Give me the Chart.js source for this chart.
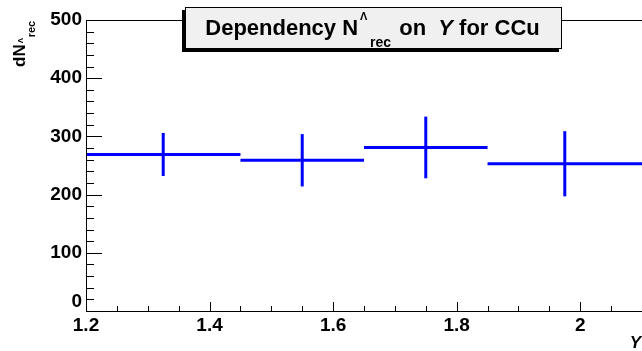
<!DOCTYPE html>
<html>
<head>
<meta charset="utf-8">
<script src="https://cdn.jsdelivr.net/npm/chart.js@4/dist/chart.umd.min.js"></script>
<style>
  html, body { margin: 0; padding: 0; background: #fff; }
  #c { display: block; }
</style>
</head>
<body>
<canvas id="c" width="642" height="351"></canvas>
<script>
// bins in Y (rapidity) and reconstructed counts with errors
const binEdges = [1.2, 1.45, 1.65, 1.85, 2.1];
const counts = [269, 259, 281, 253];
const errors = [37, 45, 53, 56];
const yTicks = [0, 100, 200, 300, 400, 500];
const xTicks = [1.2, 1.4, 1.6, 1.8, 2.0];

const FONT = '"Liberation Sans", Arial, Helvetica, sans-serif';
const BLUE = '#0000ff';

// one dataset per horizontal bin line and per vertical error bar
const datasets = [];
counts.forEach(function(v, i) {
    const lo = binEdges[i], hi = binEdges[i + 1], mid = (lo + hi) / 2;
    datasets.push({
        data: [{x: lo, y: v}, {x: hi, y: v}],
        borderColor: BLUE, borderWidth: 3, pointRadius: 0, showLine: true
    });
    datasets.push({
        data: [{x: mid, y: v - errors[i]}, {x: mid, y: v + errors[i]}],
        borderColor: BLUE, borderWidth: 3, pointRadius: 0, showLine: true
    });
});

// ROOT style frame, inward ticks, title box and axis labels
const rootFrame = {
    id: 'rootFrame',
    afterDraw(chart) {
        const ctx = chart.ctx;
        const a = chart.chartArea;
        const xs = chart.scales.x, ys = chart.scales.y;
        ctx.save();
        ctx.strokeStyle = '#000';
        ctx.lineWidth = 1;
        ctx.beginPath();
        ctx.moveTo(a.right + 5, a.top + 0.5);
        ctx.lineTo(a.left + 0.5, a.top + 0.5);
        ctx.lineTo(a.left + 0.5, a.bottom + 0.5);
        ctx.lineTo(a.right + 5, a.bottom + 0.5);
        ctx.stroke();

        // y ticks: major every 100, minor every 20
        ctx.beginPath();
        for (let v = ys.min; v <= ys.max + 1e-6; v += 20) {
            const py = Math.round(ys.getPixelForValue(v)) + 0.5;
            const len = (Math.round(v) % 100 === 0) ? 16 : 8;
            ctx.moveTo(a.left, py);
            ctx.lineTo(a.left + len, py);
        }
        // x ticks: major every 0.2, minor every 0.05
        for (let k = 0; ; k++) {
            const v = xs.min + k * 0.05;
            if (v > xs.max + 1e-6) break;
            const px = Math.round(xs.getPixelForValue(v)) + 0.5;
            const len = (k % 4 === 0) ? 9 : 5;
            ctx.moveTo(px, a.bottom);
            ctx.lineTo(px, a.bottom - len);
        }
        ctx.stroke();

        // title box with shadow
        const bx = 185, by = 7, bw = 377, bh = 42;
        ctx.fillStyle = '#000';
        ctx.fillRect(bx - 3, by + 3, bw, bh);
        ctx.fillStyle = '#f0f0f0';
        ctx.fillRect(bx, by, bw, bh);
        ctx.strokeRect(bx + 0.5, by + 0.5, bw - 1, bh - 1);

        // title text: Dependency N^Λ_rec on Y for CCu
        const big = 'bold 22px ' + FONT;
        const ital = 'italic bold 22px ' + FONT;
        const parts = [
            {t: 'Dependency N', f: big},
            {sup: '\u039B', sub: 'rec'},
            {t: ' on  ', f: big},
            {t: 'Y', f: ital},
            {t: ' for CCu', f: big}
        ];
        let total = 0;
        parts.forEach(function(p) {
            if (p.sup) {
                ctx.font = 'bold 14px ' + FONT;
                p.w = 12 + ctx.measureText(p.sub).width + 2;
            } else {
                ctx.font = p.f;
                p.w = ctx.measureText(p.t).width;
            }
            total += p.w;
        });
        let tx = bx + bw / 2 - total / 2 - 1;
        const base = 35;
        ctx.fillStyle = '#000';
        ctx.textBaseline = 'alphabetic';
        ctx.textAlign = 'left';
        parts.forEach(function(p) {
            if (p.sup) {
                ctx.font = 'bold 11px ' + FONT;
                ctx.fillText(p.sup, tx + 2, base - 15);
                ctx.font = 'bold 14px ' + FONT;
                ctx.fillText(p.sub, tx + 12, base + 12);
            } else {
                ctx.font = p.f;
                ctx.fillText(p.t, tx, base);
            }
            tx += p.w;
        });

        // y axis label, rotated
        ctx.save();
        ctx.translate(25, 67);
        ctx.rotate(-Math.PI / 2);
        ctx.font = 'bold 17px ' + FONT;
        ctx.fillText('dN', 0, 0);
        const w = ctx.measureText('dN').width;
        ctx.font = 'bold 8px ' + FONT;
        ctx.fillText('\u039B', w + 1, -2);
        ctx.font = 'bold 11px ' + FONT;
        ctx.fillText('rec', w + 7, 10);
        ctx.restore();

        // x axis label
        ctx.font = 'italic bold 17px ' + FONT;
        ctx.textAlign = 'right';
        ctx.fillText('Y', 641, 348);
        ctx.restore();
    }
};

new Chart(document.getElementById('c').getContext('2d'), {
    type: 'scatter',
    data: { datasets: datasets },
    options: {
        responsive: false,
        animation: false,
        events: [],
        layout: { padding: { top: 20, right: 0, left: 0, bottom: 0 } },
        plugins: { legend: { display: false }, tooltip: { enabled: false }, title: { display: false } },
        scales: {
            x: {
                type: 'linear', min: 1.2, max: 2.1,
                afterFit(scale) { scale.height = 40; },
                afterBuildTicks(scale) { scale.ticks = xTicks.map(function(v) { return {value: v}; }); },
                grid: { display: false, drawTicks: false },
                border: { display: false },
                ticks: {
                    padding: 3, color: '#000',
                    font: { family: FONT, size: 19, weight: 'bold' },
                    callback: function(v) { return Math.abs(v - 2) < 1e-6 ? '2' : v.toFixed(1); }
                }
            },
            y: {
                type: 'linear', min: 0, max: 500,
                afterFit(scale) { scale.width = 86; },
                afterBuildTicks(scale) { scale.ticks = yTicks.map(function(v) { return {value: v}; }); },
                grid: { display: false, drawTicks: false },
                border: { display: false },
                ticks: {
                    padding: 4, color: '#000',
                    font: { family: FONT, size: 19, weight: 'bold', lineHeight: 1.0 },
                    // ROOT nudges the zero label up so it clears the x labels
                    callback: function(v) { return v === 0 ? ['0', ''] : String(v); }
                }
            }
        }
    },
    plugins: [rootFrame]
});
</script>
</body>
</html>
